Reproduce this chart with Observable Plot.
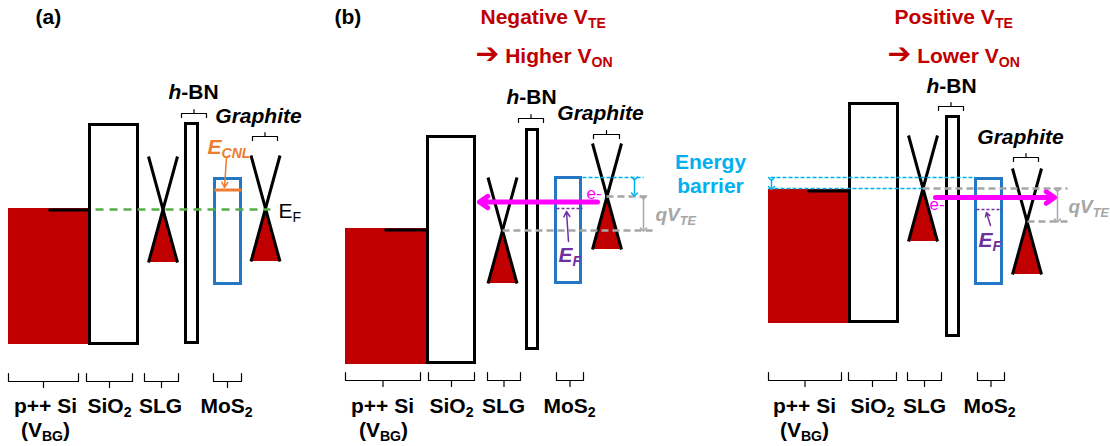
<!DOCTYPE html>
<html>
<head>
<meta charset="utf-8">
<script src="https://cdn.jsdelivr.net/npm/d3@7"></script>
<script src="https://cdn.jsdelivr.net/npm/@observablehq/plot@0.6"></script>
<style>
  body { margin: 0; background: #fff; }
</style>
</head>
<body>
<div id="chart"></div>
<script>
// Band diagrams of the p++Si / SiO2 / SLG / h-BN / MoS2 / graphite stack.
// Coordinates are diagram units: x runs across the stack, y is energy (down = lower).

// p++ Si back gate: filled states up to its Fermi level, with the level marked on top
const siGate = [
  {panel: "a", x1: 8,   x2: 88,  top: 208, bottom: 344, capFrom: 48},
  {panel: "b", x1: 345, x2: 426, top: 228, bottom: 364, capFrom: 384},
  {panel: "c", x1: 768, x2: 848, top: 189, bottom: 323, capFrom: 807}
];

// insulating layers (outer edges of the box)
const barriers = [
  {panel: "a", layer: "SiO2", x1: 88,  x2: 139, top: 123, bottom: 345},
  {panel: "a", layer: "hBN",  x1: 184, x2: 199, top: 122, bottom: 344},
  {panel: "b", layer: "SiO2", x1: 426, x2: 476, top: 135, bottom: 364},
  {panel: "b", layer: "hBN",  x1: 525, x2: 539, top: 128, bottom: 350},
  {panel: "c", layer: "SiO2", x1: 848, x2: 899, top: 102, bottom: 323},
  {panel: "c", layer: "hBN",  x1: 945, x2: 960, top: 115, bottom: 337}
];

// MoS2 band gap boxes
const mos2Gap = [
  {panel: "a", x1: 213, x2: 242, top: 177, bottom: 285},
  {panel: "b", x1: 554, x2: 582, top: 176, bottom: 284},
  {panel: "c", x1: 974, x2: 1003, top: 177, bottom: 285}
];

// Dirac cones: centre of the cone and energy of the Dirac point
const cones = [
  {panel: "a", layer: "SLG",      cx: 162.5,  dirac: 209},
  {panel: "a", layer: "Graphite", cx: 265,    dirac: 208},
  {panel: "b", layer: "SLG",      cx: 502,    dirac: 230},
  {panel: "b", layer: "Graphite", cx: 606.5,  dirac: 196},
  {panel: "c", layer: "SLG",      cx: 922.5,  dirac: 188},
  {panel: "c", layer: "Graphite", cx: 1026.5, dirac: 221}
];

// charge neutrality level of MoS2
const cnlLevel = [{panel: "a", x1: 214, x2: 241, y: 189.5}];

// dashed energy levels
const fermiLevels   = [{panel: "a", x1: 95, x2: 270, y: 209}];
const biasLevels    = [
  {panel: "b", x1: 606, x2: 648, y: 196},
  {panel: "b", x1: 502, x2: 652, y: 230},
  {panel: "c", x1: 922, x2: 1067, y: 188},
  {panel: "c", x1: 1027, x2: 1067, y: 221}
];
const barrierLevels = [
  {panel: "b", x1: 582, x2: 643, y: 177},
  {panel: "c", x1: 770, x2: 975, y: 177},
  {panel: "c", x1: 768, x2: 922, y: 188}
];
const mos2Fermi     = [
  {panel: "b", x1: 556, x2: 582, y: 208},
  {panel: "c", x1: 976, x2: 1002, y: 209}
];

// double-headed spans: energy barrier and qV_TE
const barrierSpans = [
  {panel: "b", x: 634, y1: 178, y2: 194},
  {panel: "c", x: 771, y1: 178.5, y2: 187.5}
];
const biasSpans = [
  {panel: "b", x: 643, y1: 197, y2: 229},
  {panel: "c", x: 1057, y1: 189.5, y2: 220}
];

// electron injection arrows
const injections = [
  {panel: "b", x1: 597, x2: 479, y: 201.5},
  {panel: "c", x1: 935, x2: 1054, y: 197}
];

// label pointers
const cnlPointer   = [{x1: 226, y1: 157, x2: 224, y2: 187}];
const fermiPointer = [
  {x1: 568, y1: 241, x2: 566, y2: 211},
  {x1: 990, y1: 225, x2: 986, y2: 212}
];

// braces marking each layer
const braces = [
  {side: "top", x1: 181, x2: 206, y: 113},
  {side: "top", x1: 252, x2: 277, y: 136},
  {side: "top", x1: 518, x2: 543, y: 118},
  {side: "top", x1: 593, x2: 619, y: 134},
  {side: "top", x1: 938, x2: 963, y: 106},
  {side: "top", x1: 1013, x2: 1038, y: 157},
  {side: "bottom", x1: 8,   x2: 78,  y: 381},
  {side: "bottom", x1: 86,  x2: 132, y: 381},
  {side: "bottom", x1: 144, x2: 178, y: 381},
  {side: "bottom", x1: 213, x2: 241, y: 381},
  {side: "bottom", x1: 345, x2: 420, y: 380},
  {side: "bottom", x1: 428, x2: 474, y: 380},
  {side: "bottom", x1: 487, x2: 520, y: 380},
  {side: "bottom", x1: 556, x2: 583, y: 380},
  {side: "bottom", x1: 768, x2: 841, y: 380},
  {side: "bottom", x1: 848, x2: 896, y: 380},
  {side: "bottom", x1: 907, x2: 941, y: 380},
  {side: "bottom", x1: 977, x2: 1004, y: 380}
];

// text (markup: _{..} subscript, *..* italic)
const panelTags = [
  {label: "(a)", x: 35, y: 23},
  {label: "(b)", x: 334, y: 23}
];
const titles = [
  {label: "Negative V_{TE}", x: 480, y: 23},
  {label: "\u2794 Higher V_{ON}", x: 475, y: 62},
  {label: "Positive V_{TE}", x: 894, y: 23},
  {label: "\u2794 Lower V_{ON}", x: 887, y: 62}
];
const layerNames = [
  {label: "p++ Si", x: 45, y: 412}, {label: "(V_{BG})", x: 45, y: 436},
  {label: "SiO_{2}", x: 109, y: 412}, {label: "SLG", x: 160, y: 412}, {label: "MoS_{2}", x: 226, y: 412},
  {label: "p++ Si", x: 382, y: 412}, {label: "(V_{BG})", x: 383, y: 436},
  {label: "SiO_{2}", x: 451, y: 412}, {label: "SLG", x: 503, y: 412}, {label: "MoS_{2}", x: 569, y: 412},
  {label: "p++ Si", x: 804, y: 412}, {label: "(V_{BG})", x: 804, y: 436},
  {label: "SiO_{2}", x: 872, y: 412}, {label: "SLG", x: 924, y: 412}, {label: "MoS_{2}", x: 989, y: 412},
  {label: "*h*-BN", x: 193, y: 98}, {label: "*h*-BN", x: 531, y: 103}, {label: "*h*-BN", x: 951, y: 92}
];
const graphiteNames = [
  {label: "Graphite", x: 258, y: 122},
  {label: "Graphite", x: 600, y: 119},
  {label: "Graphite", x: 1020, y: 143}
];
const barrierNames = [
  {label: "Energy", x: 710, y: 168},
  {label: "barrier", x: 710, y: 192}
];
const electronTags = [
  {label: "e-", x: 586, y: 198},
  {label: "e-", x: 929, y: 209}
];
const biasTags = [
  {label: "qV_{TE}", x: 655, y: 220},
  {label: "qV_{TE}", x: 1068, y: 212}
];
const fermiTag = [{label: "E_{F}", x: 278, y: 217}];
const mos2FermiTags = [
  {label: "E_{F}", x: 558, y: 261},
  {label: "E_{F}", x: 978, y: 246}
];
const cnlTag = [{label: "E_{CNL}", x: 207, y: 153}];

// ---- drawing ----
const RED = "#C00000", BLUE = "#2477C4", CYAN = "#00B0F0", MAGENTA = "#FF00FF",
      PURPLE = "#7030A0", ORANGE = "#ED7D31", GRAY = "#A6A6A6", GREEN = "#56AE46";
const FONT = "'Liberation Sans', Arial, Helvetica, sans-serif";
const HALF_W = 14.5, REACH = 53;

const coneFill = cones.flatMap((c, i) => [
  {id: i, x: c.cx - HALF_W, y1: c.dirac + REACH, y2: c.dirac + REACH},
  {id: i, x: c.cx,          y1: c.dirac + REACH, y2: c.dirac},
  {id: i, x: c.cx + HALF_W, y1: c.dirac + REACH, y2: c.dirac + REACH}
]);

const bracePath = braces.flatMap((b, i) => {
  const m = (b.x1 + b.x2) / 2;
  const end = b.side === "top" ? 4 : -8;
  const mid = b.side === "top" ? -4 : 6;
  return [[b.x1, b.y + end], [b.x1, b.y], [m, b.y], [m, b.y + mid], [m, b.y], [b.x2, b.y], [b.x2, b.y + end]]
    .map(([x, y]) => ({id: i, x, y}));
});

const hline = (data, o) => Plot.link(data, {x1: "x1", x2: "x2", y1: "y", y2: "y", ...o});
const span = (data, o) => Plot.link(data, {x1: "x", x2: "x", y1: "y1", y2: "y2", markerStart: "arrow", markerEnd: "arrow", ...o});
const label = (data, o) => Plot.text(data, {x: "x", y: "y", text: "label", lineAnchor: "bottom", fontFamily: FONT, fontSize: 21, fontWeight: "bold", ...o});

const chart = Plot.plot({
  width: 1110,
  height: 446,
  margin: 0,
  x: {domain: [0, 1110], range: [0, 1110], axis: null},
  y: {domain: [0, 446], range: [0, 446], axis: null},
  style: {background: "#fff", fontFamily: FONT, overflow: "visible"},
  marks: [
    // gate
    Plot.rect(siGate, {x1: "x1", x2: "x2", y1: "top", y2: "bottom", fill: RED}),
    Plot.link(siGate, {x1: "capFrom", x2: "x2", y1: "top", y2: "top", dy: 1.5, stroke: "#000", strokeWidth: 3}),
    // insulators
    Plot.rect(barriers, {x1: "x1", x2: "x2", y1: "top", y2: "bottom", inset: 1.5, fill: "#fff", stroke: "#000", strokeWidth: 3}),
    // MoS2
    Plot.rect(mos2Gap, {x1: "x1", x2: "x2", y1: "top", y2: "bottom", inset: 1.5, fill: "none", stroke: BLUE, strokeWidth: 3}),
    hline(cnlLevel, {stroke: ORANGE, strokeWidth: 3}),
    // Dirac cones: filled lower cone, then the crossing bands
    Plot.areaY(coneFill, {x: "x", y1: "y1", y2: "y2", z: "id", fill: RED}),
    Plot.link(cones, {x1: d => d.cx - HALF_W, y1: d => d.dirac - REACH, x2: d => d.cx + HALF_W, y2: d => d.dirac + REACH, stroke: "#000", strokeWidth: 3}),
    Plot.link(cones, {x1: d => d.cx + HALF_W, y1: d => d.dirac - REACH, x2: d => d.cx - HALF_W, y2: d => d.dirac + REACH, stroke: "#000", strokeWidth: 3}),
    // dashed levels
    hline(fermiLevels, {stroke: GREEN, strokeWidth: 2.5, strokeDasharray: "8,6"}),
    hline(biasLevels, {stroke: GRAY, strokeWidth: 2.5, strokeDasharray: "7,4"}),
    hline(barrierLevels, {stroke: CYAN, strokeWidth: 1.5, strokeDasharray: "4,2"}),
    hline(mos2Fermi, {stroke: PURPLE, strokeWidth: 1.5, strokeDasharray: "3,2"}),
    // spans and arrows
    span(barrierSpans, {stroke: CYAN, strokeWidth: 1.5}),
    span(biasSpans, {stroke: GRAY, strokeWidth: 1.5}),
    Plot.arrow(injections, {x1: "x1", x2: "x2", y1: "y", y2: "y", stroke: MAGENTA, strokeWidth: 5, headLength: 3, headAngle: 70}),
    Plot.arrow(cnlPointer, {x1: "x1", y1: "y1", x2: "x2", y2: "y2", stroke: ORANGE, strokeWidth: 1.5, headLength: 6}),
    Plot.arrow(fermiPointer, {x1: "x1", y1: "y1", x2: "x2", y2: "y2", stroke: PURPLE, strokeWidth: 1.5, headLength: 6}),
    // braces
    Plot.line(bracePath, {x: "x", y: "y", z: "id", stroke: "#000", strokeWidth: 1.2}),
    // text
    label(panelTags, {textAnchor: "start", fill: "#000"}),
    label(titles, {textAnchor: "start", fill: RED}),
    label(layerNames, {textAnchor: "middle", fill: "#000"}),
    label(graphiteNames, {textAnchor: "middle", fill: "#000", fontStyle: "italic"}),
    label(barrierNames, {textAnchor: "middle", fill: CYAN}),
    label(electronTags, {textAnchor: "start", fill: MAGENTA, fontSize: 17, fontWeight: "normal"}),
    label(biasTags, {textAnchor: "start", fill: GRAY, fontSize: 19, fontStyle: "italic"}),
    label(fermiTag, {textAnchor: "start", fill: "#000", fontWeight: "normal"}),
    label(mos2FermiTags, {textAnchor: "start", fill: PURPLE, fontStyle: "italic"}),
    label(cnlTag, {textAnchor: "start", fill: ORANGE, fontStyle: "italic"})
  ]
});

document.getElementById("chart").append(chart);

// turn the _{..} and *..* markup into subscript / italic spans; arrows use a font that has them
d3.select(chart).selectAll("text").each(function () {
  const raw = this.textContent;
  if (!/[_*\u2794]/.test(raw)) return;
  const size = parseFloat(getComputedStyle(this).fontSize) || 21;
  const el = d3.select(this).text(null);
  let shift = 0;
  for (const m of raw.matchAll(/_\{([^}]*)\}|\*([^*]*)\*|(\u2794)|([^_*\u2794]+)/g)) {
    const t = el.append("tspan");
    if (m[1] !== undefined) {
      const s = size * 0.22;
      t.text(m[1]).attr("font-size", (size * 0.67).toFixed(1)).attr("dy", s - shift);
      shift = s;
      continue;
    }
    if (m[2] !== undefined) t.text(m[2]).attr("font-style", "italic");
    else if (m[3] !== undefined) t.text(m[3]).attr("font-family", "'DejaVu Sans', sans-serif").attr("font-size", (size * 1.35).toFixed(1));
    else t.text(m[4]);
    if (shift) { t.attr("dy", -shift); shift = 0; }
  }
});
</script>
</body>
</html>
